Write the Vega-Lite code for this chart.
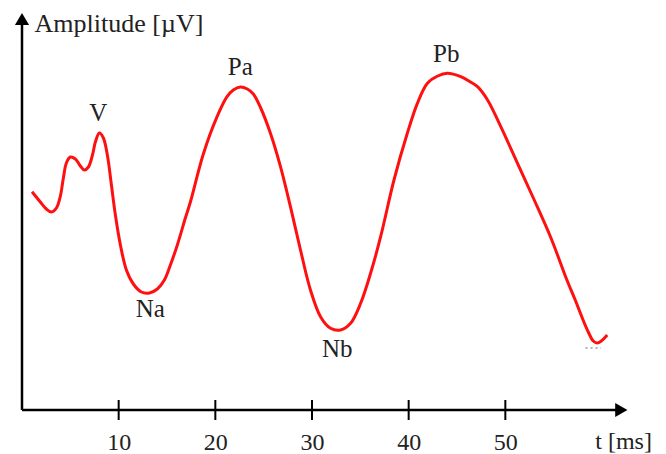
{
  "$schema": "https://vega.github.io/schema/vega-lite/v6.json",
  "width": 609,
  "height": 395,
  "padding": {"left": 22, "top": 15, "right": 35, "bottom": 44},
  "autosize": {"type": "none"},
  "background": "white",
  "config": {"view": {"stroke": null}},
  "datasets": {
    "curve": [
      {"t": 1.04, "amp": 218.3}, {"t": 1.9, "amp": 208}, {"t": 2.52, "amp": 201},
      {"t": 3.04, "amp": 198}, {"t": 3.56, "amp": 202}, {"t": 3.97, "amp": 214},
      {"t": 4.28, "amp": 232}, {"t": 4.59, "amp": 247}, {"t": 5.0, "amp": 253},
      {"t": 5.52, "amp": 251}, {"t": 6.04, "amp": 244}, {"t": 6.45, "amp": 240},
      {"t": 6.87, "amp": 243}, {"t": 7.29, "amp": 255}, {"t": 7.59, "amp": 268},
      {"t": 8.0, "amp": 277}, {"t": 8.42, "amp": 272}, {"t": 8.83, "amp": 255},
      {"t": 9.25, "amp": 225}, {"t": 9.66, "amp": 195}, {"t": 10.18, "amp": 165},
      {"t": 10.8, "amp": 140}, {"t": 11.52, "amp": 126}, {"t": 12.35, "amp": 118},
      {"t": 13.18, "amp": 117}, {"t": 14.0, "amp": 121}, {"t": 14.73, "amp": 130},
      {"t": 15.35, "amp": 145}, {"t": 16.07, "amp": 165}, {"t": 16.9, "amp": 192},
      {"t": 17.42, "amp": 208}, {"t": 18.76, "amp": 256}, {"t": 20.18, "amp": 293.3},
      {"t": 21.21, "amp": 313.3}, {"t": 21.86, "amp": 320}, {"t": 22.58, "amp": 323},
      {"t": 23.31, "amp": 321}, {"t": 23.93, "amp": 316}, {"t": 24.65, "amp": 303},
      {"t": 25.7, "amp": 276.7}, {"t": 26.74, "amp": 243.3}, {"t": 27.77, "amp": 203.3},
      {"t": 28.81, "amp": 160}, {"t": 29.84, "amp": 120}, {"t": 30.88, "amp": 93.3},
      {"t": 31.92, "amp": 81.7}, {"t": 32.95, "amp": 80}, {"t": 33.99, "amp": 86.7},
      {"t": 35.03, "amp": 106.7}, {"t": 36.06, "amp": 136.7}, {"t": 37.1, "amp": 173.3},
      {"t": 38.48, "amp": 230}, {"t": 39.86, "amp": 276.7}, {"t": 40.9, "amp": 306.7},
      {"t": 41.94, "amp": 326.7}, {"t": 43.0, "amp": 334}, {"t": 44.01, "amp": 336.7},
      {"t": 45.39, "amp": 333.3}, {"t": 46.4, "amp": 328}, {"t": 47.12, "amp": 323.3},
      {"t": 48.16, "amp": 310}, {"t": 49.53, "amp": 283.3}, {"t": 51.26, "amp": 246.7},
      {"t": 52.99, "amp": 210}, {"t": 54.72, "amp": 172}, {"t": 56.37, "amp": 130},
      {"t": 57.23, "amp": 110}, {"t": 57.96, "amp": 92}, {"t": 58.58, "amp": 78},
      {"t": 59.1, "amp": 69}, {"t": 59.5, "amp": 67}, {"t": 59.92, "amp": 69},
      {"t": 60.54, "amp": 75}
    ],
    "labels": [
      {"t": 7.9, "amp": 297, "label": "V"},
      {"t": 13.28, "amp": 101, "label": "Na"},
      {"t": 22.58, "amp": 343, "label": "Pa"},
      {"t": 32.62, "amp": 61, "label": "Nb"},
      {"t": 43.89, "amp": 356, "label": "Pb"}
    ],
    "titles": [
      {"t": 1.3, "amp": 386, "label": "Amplitude [µV]"},
      {"t": 59.3, "amp": -32, "label": "t [ms]"}
    ],
    "ticks": [
      {"t": 10, "lo": -10, "hi": 10}, {"t": 20, "lo": -10, "hi": 10},
      {"t": 30, "lo": -10, "hi": 10}, {"t": 40, "lo": -10, "hi": 10},
      {"t": 50, "lo": -10, "hi": 10}
    ],
    "axisLines": [
      {"t": 0, "t2": 61.5, "amp": 0, "amp2": 0},
      {"t": 0, "t2": 0, "amp": 0, "amp2": 388}
    ],
    "arrows": [
      {"t": 62.0, "amp": 0, "shape": "triangle-right"},
      {"t": 0, "amp": 391, "shape": "triangle-up"}
    ],
    "dots": [
      {"t": 58.3, "t2": 59.9, "amp": 62}
    ]
  },
  "layer": [
    {
      "data": {"name": "axisLines"},
      "mark": {"type": "rule", "color": "#000", "strokeWidth": 2.5},
      "encoding": {
        "x": {"field": "t", "type": "quantitative", "scale": {"domain": [0, 63], "nice": false, "zero": false}, "axis": {
          "values": [10, 20, 30, 40, 50], "domain": false, "ticks": false, "grid": false,
          "labelFont": "Liberation Serif", "labelFontSize": 24, "labelColor": "#222",
          "labelPadding": 20, "title": null
        }},
        "x2": {"field": "t2"},
        "y": {"field": "amp", "type": "quantitative", "scale": {"domain": [0, 395], "nice": false, "zero": false}, "axis": null},
        "y2": {"field": "amp2"}
      }
    },
    {
      "data": {"name": "ticks"},
      "mark": {"type": "rule", "color": "#000", "strokeWidth": 2},
      "encoding": {
        "x": {"field": "t", "type": "quantitative"},
        "y": {"field": "lo", "type": "quantitative"},
        "y2": {"field": "hi"}
      }
    },
    {
      "data": {"name": "arrows"},
      "mark": {"type": "point", "filled": true, "color": "#000", "size": 200, "opacity": 1},
      "encoding": {
        "x": {"field": "t", "type": "quantitative"},
        "y": {"field": "amp", "type": "quantitative"},
        "shape": {"field": "shape", "type": "nominal", "scale": null}
      }
    },
    {
      "data": {"name": "dots"},
      "mark": {"type": "rule", "color": "#999", "strokeWidth": 1.5, "strokeDash": [2, 3]},
      "encoding": {
        "x": {"field": "t", "type": "quantitative"},
        "x2": {"field": "t2"},
        "y": {"field": "amp", "type": "quantitative"}
      }
    },
    {
      "data": {"name": "curve"},
      "mark": {"type": "line", "color": "#ff1010", "strokeWidth": 3, "interpolate": "catmull-rom"},
      "encoding": {
        "x": {"field": "t", "type": "quantitative"},
        "y": {"field": "amp", "type": "quantitative"}
      }
    },
    {
      "data": {"name": "labels"},
      "mark": {"type": "text", "font": "Liberation Serif", "fontSize": 25, "color": "#222", "baseline": "middle", "align": "center"},
      "encoding": {
        "x": {"field": "t", "type": "quantitative"},
        "y": {"field": "amp", "type": "quantitative"},
        "text": {"field": "label"}
      }
    },
    {
      "data": {"name": "titles"},
      "mark": {"type": "text", "font": "Liberation Serif", "fontSize": 26, "color": "#222", "baseline": "middle", "align": "left"},
      "encoding": {
        "x": {"field": "t", "type": "quantitative"},
        "y": {"field": "amp", "type": "quantitative"},
        "text": {"field": "label", "type": "nominal"},
        "size": {"condition": {"test": "datum.label === 't [ms]'", "value": 24}, "value": 26}
      }
    }
  ]
}
